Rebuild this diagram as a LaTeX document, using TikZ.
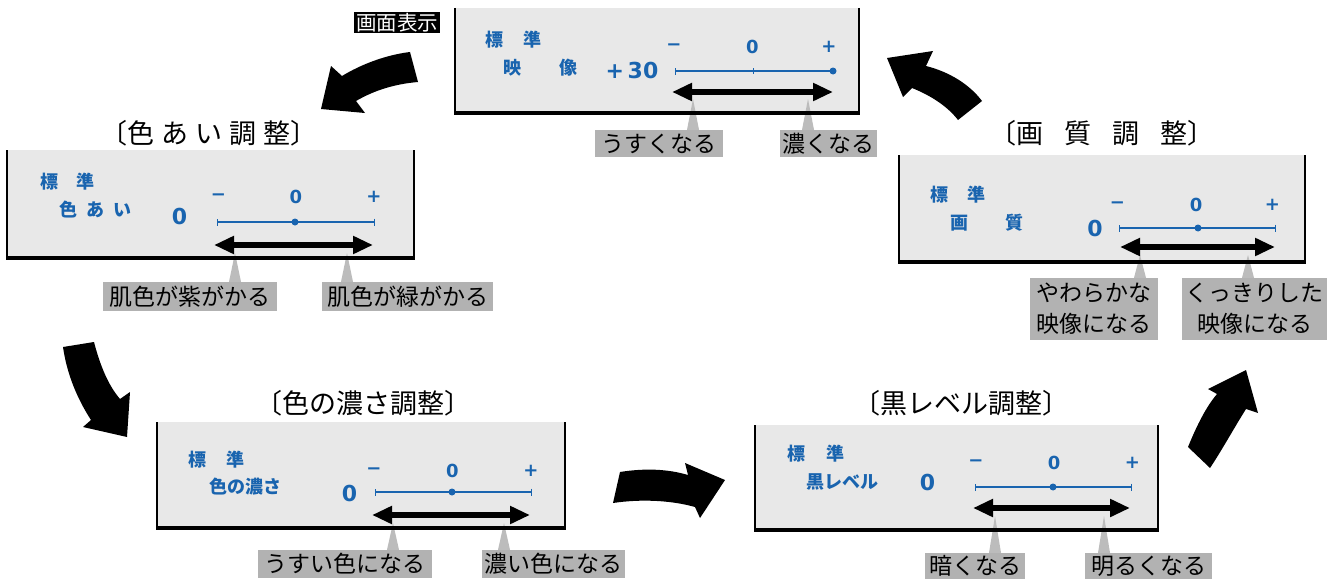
\documentclass[tikz,border=0pt]{standalone}
\usepackage{fontspec}
\setmainfont{Noto Sans CJK JP}
\newfontfamily\latin{DejaVu Sans}
\usetikzlibrary{arrows.meta}
\definecolor{tvblue}{RGB}{25,100,175}
\definecolor{panelfill}{RGB}{232,232,232}
\definecolor{labfill}{RGB}{178,178,178}
\definecolor{ptrfill}{RGB}{188,188,188}
\newcommand\tvfill[4]{\fill[panelfill] (#1,#2) rectangle (#3,#4);}
\newcommand\tvframe[4]{%
  \draw[line width=2pt] (#1,#2) -- (#1,#4);
  \draw[line width=2pt] (#3,#2) -- (#3,#4);
  \draw[line width=3.5pt] (#1-1,#4) -- (#3+1,#4);}
\newcommand\tvptr[4]{%
  \coordinate (#4) at (#1,#2);
  \fill[ptrfill] (#4) -- ([xshift=-6pt]#4 |- #3.north) -- ([xshift=6pt]#4 |- #3.north) -- cycle;}
\begin{document}
\begin{tikzpicture}[x=1pt,y=-1pt,
  bluetxt/.style={text=tvblue, font=\bfseries\fontsize{18}{18}\selectfont, inner sep=0pt},
  signtxt/.style={text=tvblue, font=\latin\bfseries\fontsize{18}{18}\selectfont, inner sep=0pt},
  valtxt/.style={text=tvblue, font=\latin\bfseries\fontsize{22}{22}\selectfont, inner sep=0pt},
  labbox/.style={fill=labfill, font=\fontsize{23}{31}\selectfont, inner sep=0pt, minimum height=27pt, align=center},
  titletxt/.style={font=\fontsize{27}{27}\selectfont, inner sep=0pt},
  scl/.style={tvblue, line width=1.1pt},
  dbl/.style={line width=6pt, {Triangle[length=20pt,width=17pt]}-{Triangle[length=20pt,width=17pt]}},
  bigarrow/.style={fill=black}
]
\useasboundingbox (0,0) rectangle (1337,578);

% ---------- big flow arrows ----------
\fill[bigarrow] (410,52) .. controls (385,55) and (360,65) .. (342,76) -- (331,66) -- (321,109) -- (365,113) -- (356,101) .. controls (375,90) and (395,84) .. (418,82) -- cycle;
\fill[bigarrow] (63,347) -- (94,342) .. controls (100,365) and (108,385) .. (120,399) -- (130,392) -- (127,437) -- (83,427) -- (91,420) .. controls (78,400) and (67,375) .. (63,347) -- cycle;
\fill[bigarrow] (620,472) .. controls (645,468) and (668,469) .. (688,475) -- (685,463) -- (725,480) -- (700,518) -- (695,507) .. controls (670,500) and (640,499) .. (613,503) -- cycle;
\fill[bigarrow] (1188,447) .. controls (1197,425) and (1206,407) .. (1217,394) -- (1208,389) -- (1246,370) -- (1258,413) -- (1246,409) .. controls (1234,428) and (1222,450) .. (1210,468) -- cycle;
\fill[bigarrow] (887,58) -- (933,51) -- (926,66) .. controls (950,72) and (970,85) .. (982,101) -- (958,120) .. controls (948,107) and (932,96) .. (912,88) -- (903,97) -- cycle;

% ---------- screen display tag ----------
\node[fill=black, text=white, font=\fontsize{20.5}{20.5}\selectfont, inner sep=0pt, minimum width=86pt, minimum height=21pt] (disp) at (397,22.5) {画面表示};

% ---------- panel A : picture ----------
\node[labbox, minimum width=128pt] (alab1) at (659,143.5) {うすくなる};
\node[labbox, minimum width=97pt] (alab2) at (828.5,143.5) {濃くなる};
\tvfill{455}{8}{859}{113}
\tvptr{693}{99}{alab1}{ap1}
\tvptr{808}{99}{alab2}{ap2}
\tvframe{455}{8}{859}{113}
\node[bluetxt] (astd) at (513.5,40) {標\hspace{21pt}準};
\node[bluetxt] (aname) at (540.5,68) {映\hspace{39pt}像};
\node[valtxt] (aval) at (632,70) {+\,30};
\node[signtxt] (am) at (674,47) {−};
\node[signtxt] (az) at (752.5,47) {0};
\node[signtxt] (ap) at (829,47) {+};
\coordinate (asl) at (675,71); \coordinate (asr) at (833,71);
\draw[scl, {Bar[width=7pt]}-] (asl) -- (asr);
\draw[tvblue, line width=1pt] (753,68) -- (753,74);
\fill[tvblue] (asr) circle (3.5);
\coordinate (aal) at (672,92); \coordinate (aar) at (833,92);
\draw[dbl] (aal) -- (aar);

% ---------- panel B : tint ----------
\node[titletxt] (btitle) at (209,133) {〔色\hspace{7pt}あ\hspace{7pt}い\hspace{7pt}調\hspace{7pt}整〕};
\node[labbox, minimum width=174pt, minimum height=29pt] (blab1) at (190,296.5) {肌色が紫がかる};
\node[labbox, minimum width=171pt, minimum height=29pt] (blab2) at (407.5,296.5) {肌色が緑がかる};
\tvfill{7}{150}{414}{258}
\tvptr{235}{253}{blab1}{bp1}
\tvptr{347}{253}{blab2}{bp2}
\tvframe{7}{150}{414}{258}
\node[bluetxt] (bstd) at (67.5,182) {標\hspace{19pt}準};
\node[bluetxt] (bname) at (95,210) {色\hspace{9pt}あ\hspace{9pt}い};
\node[valtxt] (bval) at (179.5,216) {0};
\node[signtxt] (bm) at (218.5,197) {−};
\node[signtxt] (bz) at (296,197) {0};
\node[signtxt] (bp) at (374,197) {+};
\coordinate (bsl) at (217,222); \coordinate (bsr) at (375,222);
\draw[scl, {Bar[width=7pt]}-{Bar[width=7pt]}] (bsl) -- (bsr);
\fill[tvblue] (295,222) circle (3.5);
\coordinate (bal) at (214,245); \coordinate (bar) at (373,245);
\draw[dbl] (bal) -- (bar);

% ---------- panel C : sharpness ----------
\node[titletxt] (ctitle) at (1102,133) {〔画\hspace{21pt}質\hspace{21pt}調\hspace{21pt}整〕};
\node[labbox, minimum width=128pt, minimum height=62pt] (clab1) at (1094,309) {やわらかな\\映像になる};
\node[labbox, minimum width=145pt, minimum height=62pt] (clab2) at (1254.5,309) {くっきりした\\映像になる};
\tvfill{899}{155}{1305}{262}
\tvptr{1140}{255}{clab1}{cp1}
\tvptr{1248}{255}{clab2}{cp2}
\tvframe{899}{155}{1305}{262}
\node[bluetxt] (cstd) at (957.5,195) {標\hspace{19pt}準};
\node[bluetxt] (cname) at (986.5,223) {画\hspace{37pt}質};
\node[valtxt] (cval) at (1095,228) {0};
\node[signtxt] (cm) at (1117.5,205) {−};
\node[signtxt] (cz) at (1196,205) {0};
\node[signtxt] (cp) at (1272.5,205) {+};
\coordinate (csl) at (1119,228); \coordinate (csr) at (1276,228);
\draw[scl, {Bar[width=7pt]}-{Bar[width=7pt]}] (csl) -- (csr);
\fill[tvblue] (1198,228) circle (3.5);
\coordinate (cal) at (1120,247); \coordinate (car) at (1275,247);
\draw[dbl] (cal) -- (car);

% ---------- panel D : colour depth ----------
\node[titletxt] (dtitle) at (363,403) {〔色の濃さ調整〕};
\node[labbox, minimum width=174pt, minimum height=28pt] (dlab1) at (345,564) {うすい色になる};
\node[labbox, minimum width=143pt, minimum height=28pt] (dlab2) at (553.5,564) {濃い色になる};
\tvfill{157}{422}{565}{528}
\tvptr{393}{523}{dlab1}{dp1}
\tvptr{504}{523}{dlab2}{dp2}
\tvframe{157}{422}{565}{528}
\node[bluetxt] (dstd) at (216.5,460) {標\hspace{21pt}準};
\node[bluetxt] (dname) at (245.5,487) {色の濃さ};
\node[valtxt] (dval) at (349.5,493) {0};
\node[signtxt] (dm) at (374,471) {−};
\node[signtxt] (dz) at (452.5,471) {0};
\node[signtxt] (dp) at (531,471) {+};
\coordinate (dsl) at (375,492); \coordinate (dsr) at (532,492);
\draw[scl, {Bar[width=7pt]}-{Bar[width=7pt]}] (dsl) -- (dsr);
\fill[tvblue] (452,492) circle (3.5);
\coordinate (dal) at (372,515); \coordinate (dar) at (530,515);
\draw[dbl] (dal) -- (dar);

% ---------- panel E : black level ----------
\node[titletxt] (etitle) at (961,403) {〔黒レベル調整〕};
\node[labbox, minimum width=100pt, minimum height=26pt] (elab1) at (975,566) {暗くなる};
\node[labbox, minimum width=127pt, minimum height=26pt] (elab2) at (1148.5,566) {明るくなる};
\tvfill{755}{425}{1158}{530}
\tvptr{995}{516}{elab1}{ep1}
\tvptr{1104}{516}{elab2}{ep2}
\tvframe{755}{425}{1158}{530}
\node[bluetxt] (estd) at (815.5,454) {標\hspace{21pt}準};
\node[bluetxt] (ename) at (842.5,482) {黒レベル};
\node[valtxt] (eval) at (927.5,482) {0};
\node[signtxt] (em) at (976,463) {−};
\node[signtxt] (ez) at (1054,463) {0};
\node[signtxt] (ep) at (1132.5,463) {+};
\coordinate (esl) at (975,487); \coordinate (esr) at (1132,487);
\draw[scl, {Bar[width=7pt]}-{Bar[width=7pt]}] (esl) -- (esr);
\fill[tvblue] (1053,487) circle (3.5);
\coordinate (eal) at (973,508); \coordinate (ear) at (1130,508);
\draw[dbl] (eal) -- (ear);
\end{tikzpicture}
\end{document}
